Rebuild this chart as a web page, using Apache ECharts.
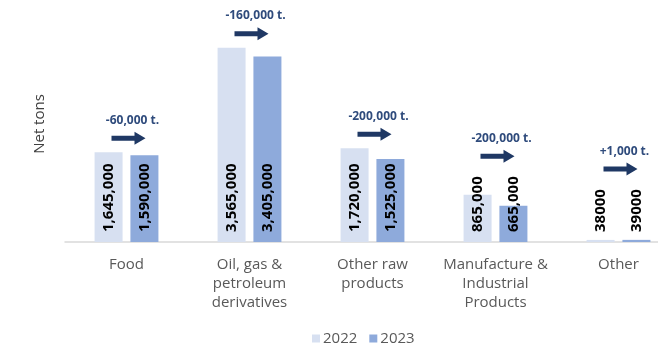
<!DOCTYPE html>
<html>
<head>
<meta charset="utf-8">
<script src="https://cdn.jsdelivr.net/npm/echarts@6/dist/echarts.min.js"></script>
<style>
  html, body { margin: 0; padding: 0; background: #ffffff; }
  #chart { width: 658px; height: 345px; }
</style>
</head>
<body>
<div id="chart"></div>
<script>
// Net tons by product group, 2022 vs 2023
const categories = ['Food', 'Oil, gas &\npetroleum\nderivatives', 'Other raw\nproducts', 'Manufacture &\nIndustrial\nProducts', 'Other'];
const tons2022 = [1645000, 3565000, 1720000, 865000, 38000];
const tons2023 = [1590000, 3405000, 1525000, 665000, 39000];
const labels2022 = ['1,645,000', '3,565,000', '1,720,000', '865,000', '38000'];
const labels2023 = ['1,590,000', '3,405,000', '1,525,000', '665,000', '39000'];
const changeLabels = ['-60,000 t.', '-160,000 t.', '-200,000 t.', '-200,000 t.', '+1,000 t.'];

const FONT = '"Open Sans", "Noto Sans", sans-serif';
const LABEL_FONT_SIZE = 15;

// measure rotated value labels so the change arrows clear them
const measureCtx = document.createElement('canvas').getContext('2d');
measureCtx.font = 'bold ' + LABEL_FONT_SIZE + 'px "Open Sans"';
const labelLen = (t) => measureCtx.measureText(t).width;

const changeData = categories.map((c, i) => [
  i,
  Math.max(tons2022[i], tons2023[i]),
  Math.max(labelLen(labels2022[i]), labelLen(labels2023[i]))
]);

const chart = echarts.init(document.getElementById('chart'), null, { renderer: 'canvas' });

function valueLabel(texts) {
  return {
    show: true,
    position: 'insideBottom',
    distance: 10,
    rotate: 90,
    align: 'left',
    verticalAlign: 'middle',
    color: '#000000',
    fontFamily: FONT,
    fontWeight: 'bold',
    fontSize: LABEL_FONT_SIZE,
    formatter: (p) => texts[p.dataIndex]
  };
}

const option = {
  animation: false,
  backgroundColor: '#ffffff',
  grid: { left: 65, top: 24, bottom: 103, width: 615, outerBoundsMode: 'none', containLabel: false },
  legend: {
    data: ['2022', '2023'],
    left: 307,
    top: 326,
    itemWidth: 8,
    itemHeight: 8,
    itemGap: 12,
    icon: 'rect',
    textStyle: { fontFamily: FONT, fontSize: 15, color: '#595959', padding: [0, 0, 0, -2] }
  },
  xAxis: {
    type: 'category',
    data: categories,
    axisLine: { lineStyle: { color: '#d9d9d9', width: 1.5 } },
    axisTick: { show: false },
    axisLabel: {
      margin: 13,
      interval: 0,
      color: '#595959',
      fontFamily: FONT,
      fontSize: 15,
      lineHeight: 19
    }
  },
  yAxis: {
    type: 'value',
    min: 0,
    max: 4000000,
    show: false
  },
  graphic: [{
    type: 'text',
    x: 40,
    y: 124,
    rotation: Math.PI / 2,
    style: {
      text: 'Net tons',
      fill: '#404040',
      font: '15px ' + FONT,
      align: 'center',
      verticalAlign: 'middle'
    }
  }],
  series: [
    {
      name: '2022',
      type: 'bar',
      data: tons2022,
      barWidth: 28,
      barGap: '28%',
      itemStyle: { color: '#d7e0f1' },
      label: valueLabel(labels2022)
    },
    {
      name: '2023',
      type: 'bar',
      data: tons2023,
      barWidth: 28,
      itemStyle: { color: '#8eaadb' },
      label: valueLabel(labels2023)
    },
    {
      name: 'change',
      type: 'custom',
      data: changeData,
      z: 10,
      clip: false,
      silent: true,
      renderItem: function (params, api) {
        const i = api.value(0);
        const top = api.coord([i, api.value(1)]);
        const base = api.coord([i, 0]);
        const labelTop = base[1] - 10 - api.value(2);
        const cx = top[0];
        const ay = Math.min(top[1] - 14, labelTop - 20);
        const L = 34, head = 11, hh = 6.5, sh = 2.5;
        const x0 = cx + 2 - L / 2, x1 = cx + 2 + L / 2;
        return {
          type: 'group',
          children: [
            {
              type: 'polygon',
              shape: {
                points: [
                  [x0, ay - sh], [x1 - head, ay - sh], [x1 - head, ay - hh],
                  [x1, ay], [x1 - head, ay + hh], [x1 - head, ay + sh], [x0, ay + sh]
                ]
              },
              style: { fill: '#1f3864' }
            },
            {
              type: 'text',
              x: cx + 6,
              y: ay - 18,
              style: {
                text: changeLabels[i],
                fill: '#2f4b7c',
                font: 'bold 12px ' + FONT,
                align: 'center',
                verticalAlign: 'middle'
              }
            }
          ]
        };
      }
    }
  ]
};

chart.setOption(option);
</script>
</body>
</html>
